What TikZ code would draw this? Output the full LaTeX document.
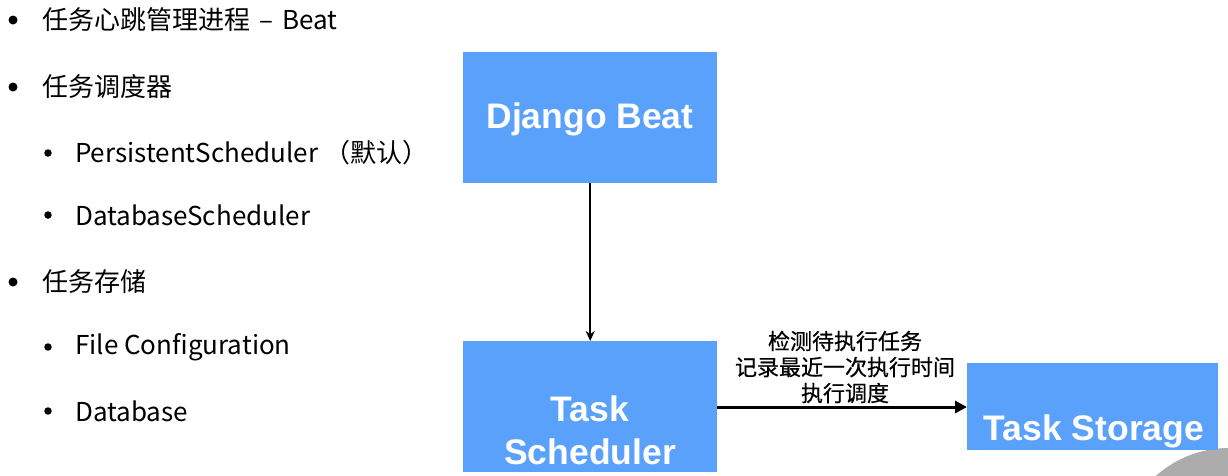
\documentclass[tikz,border=0pt]{standalone}
\usepackage{fontspec}
\setmainfont{Noto Sans CJK SC}
\newfontfamily\boxfont{Liberation Sans}
\newfontfamily\cjkfont{Noto Sans CJK SC}
\newfontfamily\labfont[FakeBold=0.6]{Noto Sans CJK SC}
\usetikzlibrary{arrows.meta}
\definecolor{boxblue}{RGB}{89,161,250}
\definecolor{arcgray}{RGB}{172,172,172}
\begin{document}
\begin{tikzpicture}[x=1pt,y=-1pt,
  bluebox/.style={fill=boxblue,draw=none,inner sep=0pt,anchor=north west},
  boxtext/.style={text=white,font=\boxfont\bfseries\fontsize{35.5}{43}\selectfont,align=center,inner sep=0pt},
  listtext/.style={anchor=west,inner sep=0pt,font=\cjkfont\fontsize{26}{30}\selectfont},
  subtext/.style={anchor=west,inner sep=0pt,font=\cjkfont\fontsize{26}{30}\selectfont},
  bulletdot/.style={circle,fill=black,inner sep=0pt,minimum size=9pt},
  subdot/.style={circle,fill=black,inner sep=0pt,minimum size=7.5pt},
  flowarrow/.style={draw=black,line width=3pt,-{Triangle[length=12pt,width=12pt]}},
  downarrow/.style={draw=black,line width=2pt,-{Stealth[length=10pt,width=9pt]}},
  edgelabel/.style={font=\labfont\fontsize{22}{26}\selectfont,align=center,inner sep=0pt}
]
\useasboundingbox (0,0) rectangle (1228,475);
\fill[white] (0,0) rectangle (1228,475);
% gray decoration arc
\fill[arcgray] (1229,558) circle (110);

% left list
\node[bulletdot] (b1) at (13,20) {};
\node[listtext] (t1) at (42,20) {任务心跳管理进程\hspace{9pt}–\hspace{9pt}Beat};
\node[bulletdot] (b2) at (13,87) {};
\node[listtext] (t2) at (42,87) {任务调度器};
\node[subdot] (b3) at (48,153) {};
\node[subtext] (t3) at (75,153) {PersistentScheduler （默认）};
\node[subdot] (b4) at (48,215) {};
\node[subtext] (t4) at (75,215) {DatabaseScheduler};
\node[bulletdot] (b5) at (13,282) {};
\node[listtext] (t5) at (42,282) {任务存储};
\node[subdot] (b6) at (48,347) {};
\node[subtext] (t6) at (75,347) {File Configuration};
\node[subdot] (b7) at (48,411) {};
\node[subtext] (t7) at (75,411) {Database};

% boxes
\node[bluebox,minimum width=254pt,minimum height=131pt] (beat) at (463,52) {};
\node[boxtext] (beattext) at (590,119) {Django Beat};
\node[bluebox,minimum width=254pt,minimum height=131pt] (sched) at (463,341) {};
\node[boxtext] (schedtext) at (590,430) {Task\\Scheduler};
\node[bluebox,minimum width=251pt,minimum height=87pt] (store) at (967,363) {};
\node[boxtext] (storetext) at (1094,431) {Task Storage};

% connectors
\draw[downarrow] (beat.south) -- (sched.north);
\coordinate (hs) at (sched.east |- 0,407);
\coordinate (he) at (store.west |- 0,407);
\draw[flowarrow] (hs) -- (he);
\node[edgelabel] (lab) at (845,367) {检测待执行任务\\记录最近一次执行时间\\执行调度};
\end{tikzpicture}
\end{document}
